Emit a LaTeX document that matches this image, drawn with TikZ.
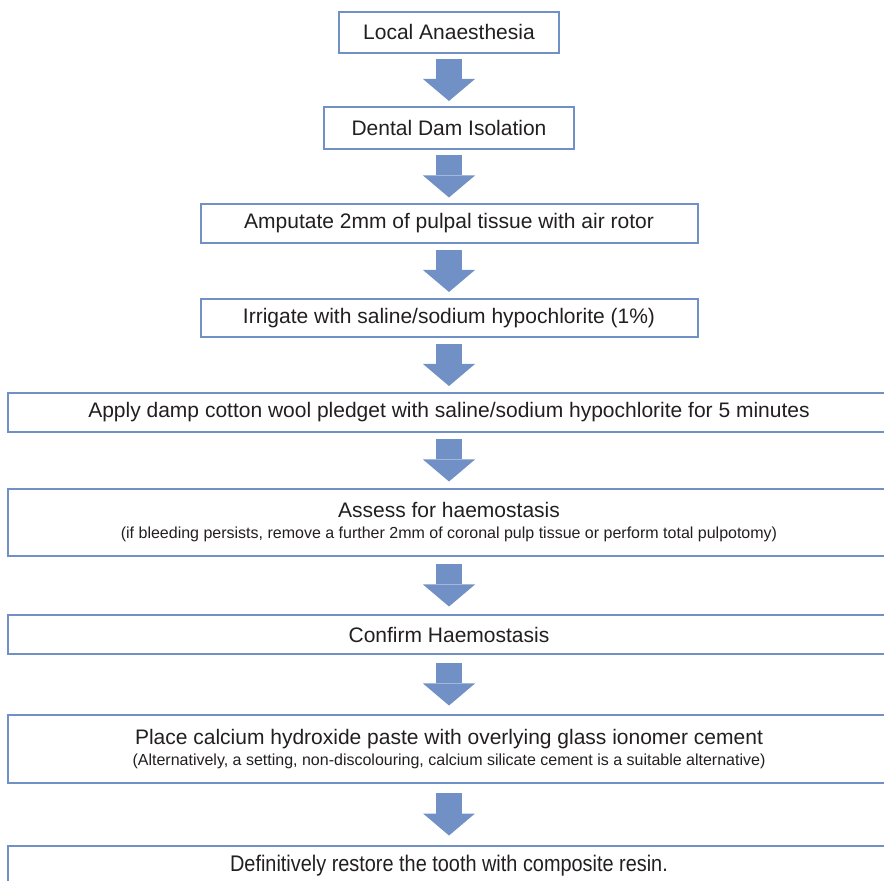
\documentclass[tikz,border=0pt]{standalone}
\usepackage{fontspec}
\setmainfont{Liberation Sans}
\newfontfamily\narrowfont{Liberation Sans}[FakeStretch=0.88]
\usetikzlibrary{positioning,arrows.meta}

\definecolor{flowblue}{RGB}{112,144,198}
\definecolor{inkgray}{RGB}{35,31,32}

\newcommand{\notefont}{\fontsize{8}{9}\selectfont}

\tikzset{
  stepbox/.style={draw=flowblue, line width=1pt, fill=white, text=inkgray,
    font=\fontsize{10.5}{10.5}\selectfont, align=center,
    inner sep=0pt, outer sep=0pt, minimum height=19.5pt},
  flow/.style={draw=flowblue, line width=13pt,
    -{Triangle[length=11pt, width=26pt, line width=0pt]},
    shorten <=#1, shorten >=#1}
}

\begin{document}
\begin{tikzpicture}[x=0.5pt, y=-0.5pt, auto]
  \useasboundingbox (0,0) rectangle (884,881);

  % Nodes
  \node (anaesthesia) [stepbox, minimum width=110pt, minimum height=20.5pt] at (449,32.5) {Local Anaesthesia};
  \node (dam) [stepbox, below=27pt of anaesthesia, minimum width=125pt, minimum height=21pt] {Dental Dam Isolation};
  \node (amputate) [stepbox, below=27.5pt of dam, minimum width=248.5pt] {Amputate 2mm of pulpal tissue with air rotor};
  \node (irrigate) [stepbox, below=28pt of amputate, minimum width=248.5pt, minimum height=19pt] {Irrigate with saline/sodium hypochlorite (1\%)};
  \node (pledget) [stepbox, below=28pt of irrigate, minimum width=441pt] {Apply damp cotton wool pledget with saline/sodium hypochlorite for 5 minutes};
  \node (assess) [stepbox, below=28.5pt of pledget, minimum width=441pt, minimum height=33.5pt] {Assess for haemostasis\\{\notefont (if bleeding persists, remove a further 2mm of coronal pulp tissue or perform total pulpotomy)}};
  \node (confirm) [stepbox, below=29.5pt of assess, minimum width=441pt] {Confirm Haemostasis};
  \node (place) [stepbox, below=30.5pt of confirm, minimum width=441pt, minimum height=34pt] {Place calcium hydroxide paste with overlying glass ionomer cement\\{\notefont (Alternatively, a setting, non-discolouring, calcium silicate cement is a suitable alternative)}};
  \node (restore) [stepbox, below=31.5pt of place, minimum width=441pt, font=\narrowfont\fontsize{11.3}{12}\selectfont] {Definitively restore the tooth with composite resin.};

  % Arrows
  \draw[flow=3pt] (anaesthesia) -- (dam);
  \draw[flow=3.25pt] (dam) -- (amputate);
  \draw[flow=3.5pt] (amputate) -- (irrigate);
  \draw[flow=3.5pt] (irrigate) -- (pledget);
  \draw[flow=3.75pt] (pledget) -- (assess);
  \draw[flow=4.25pt] (assess) -- (confirm);
  \draw[flow=4.75pt] (confirm) -- (place);
  \draw[flow=5.25pt] (place) -- (restore);

\end{tikzpicture}
\end{document}
